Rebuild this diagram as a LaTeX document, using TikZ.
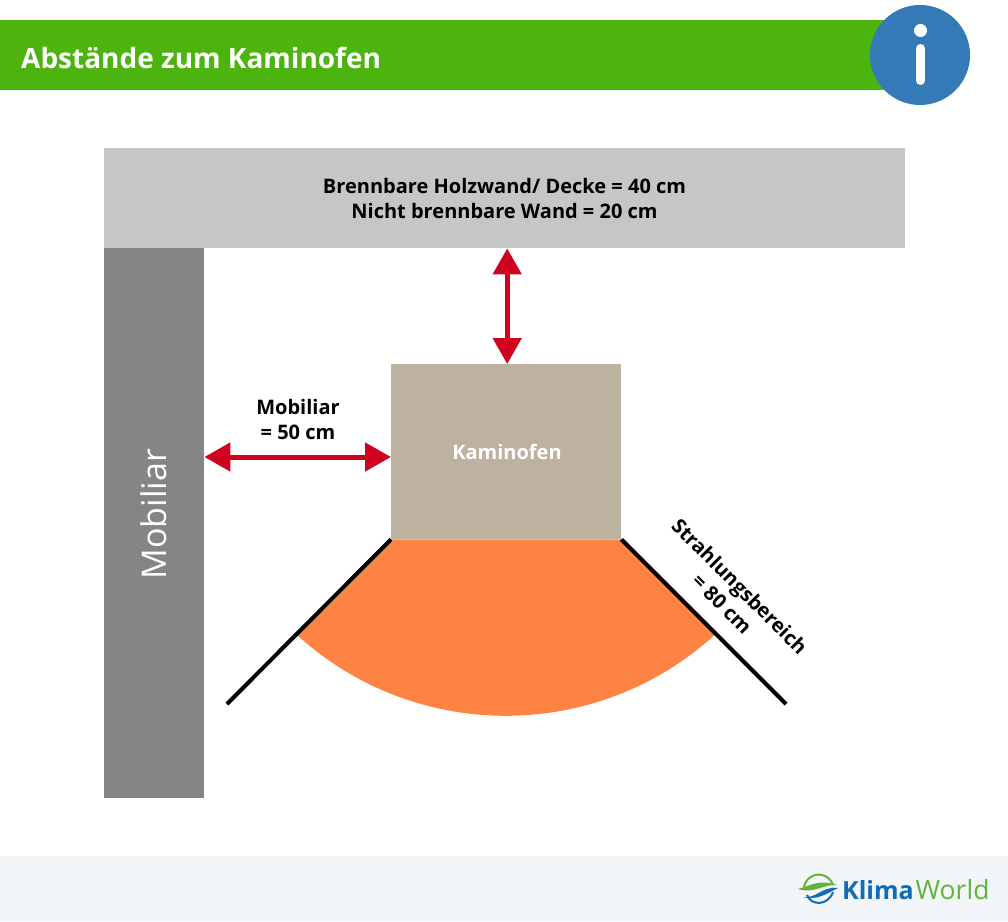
\documentclass[tikz,border=0pt]{standalone}
\usepackage{fontspec}
\setmainfont{Open Sans}
\usetikzlibrary{arrows.meta,calc}
\definecolor{titlegreen}{HTML}{4DB30E}
\definecolor{infoblue}{HTML}{337AB7}
\definecolor{wallgrey}{HTML}{C6C6C6}
\definecolor{furngrey}{HTML}{858585}
\definecolor{ofentan}{HTML}{BCB29F}
\definecolor{heatorange}{HTML}{FF8343}
\definecolor{arrowred}{HTML}{D0021F}
\definecolor{footgrey}{HTML}{F2F6F9}
\definecolor{logoblue}{HTML}{0F6CB6}
\definecolor{logogreen}{HTML}{63B33A}
\newcommand{\fs}[1]{\fontsize{#1pt}{1.25\dimexpr#1pt\relax}\selectfont}

\begin{document}
\begin{tikzpicture}[x=1pt,y=1pt]
    % `block' is used for the grey and tan areas.
    % `caption' is used for the bold black texts.
    \tikzstyle{block} = [inner sep=0pt,anchor=north west]
    \tikzstyle{caption} = [align=center,font=\fs{20}\bfseries,inner sep=0pt]
    \tikzstyle{gap} = [draw=arrowred,line width=5pt,{Triangle[length=26pt,width=28pt]}-{Triangle[length=26pt,width=28pt]}]
    \tikzstyle{edge} = [draw=black,line width=4pt]
    \useasboundingbox (0,0) rectangle (1008,-921);
    %
    \node[block,fill=footgrey,minimum width=1008pt,minimum height=65pt] (footer) at (0,-856) {};
    \node[block,fill=titlegreen,minimum width=900pt,minimum height=70pt] (titlebar) at (0,-20) {};
    \node[anchor=west,text=white,font=\fs{28}\bfseries,inner sep=0pt] (title) at (21,-58) {Abstände zum Kaminofen};
    % Info badge.
    \node[circle,fill=infoblue,minimum size=100pt,inner sep=0pt] (info) at (920,-55) {};
    \fill[white] (920.5,-30.5) circle (6.5pt);
    \draw[white,line width=9pt,line cap=round] (920.5,-48.5) -- (920.5,-80.5);
    %
    \node[block,fill=wallgrey,minimum width=801pt,minimum height=100pt] (wall) at (104,-148) {};
    \node[caption] (walltext) at (504.5,-198) {Brennbare Holzwand/ Decke = 40 cm\\Nicht brennbare Wand = 20 cm};
    \node[block,fill=furngrey,minimum width=100pt,minimum height=550pt] (mobiliar) at (104,-248) {};
    \node[rotate=90,text=white,font=\fs{34},inner sep=0pt] (mobtext) at (154,-514) {Mobiliar};
    \node[block,fill=ofentan,minimum width=230pt,minimum height=175pt] (ofen) at (391,-364) {};
    \node[text=white,font=\fs{20}\bfseries,inner sep=0pt] (ofentext) at (507,-452) {Kaminofen};
    % Heat sector, below the stove.
    \fill[heatorange] (ofen.south west) -- (296,-634) arc[start angle=-132.6,end angle=-47.4,radius=310] -- (ofen.south east) -- cycle;
    \coordinate (endl) at (227,-704);
    \coordinate (endr) at (786,-704);
    \draw[edge] (ofen.south west) -- (endl);
    \draw[edge] (ofen.south east) -- (endr);
    % Distances.
    \coordinate (midy) at (0,-457);
    \draw[gap] ([xshift=1pt]ofen.north |- wall.south) -- ([xshift=1pt]ofen.north);
    \draw[gap] (mobiliar.east |- midy) -- (ofen.west |- midy);
    \node[caption] (mobdist) at (298,-419) {Mobiliar\\= 50 cm};
    \node[caption,rotate=-45] (strahl) at (731,-595) {Strahlungsbereich\\= 80 cm};
    % Logo.
    \draw[logogreen,line width=2pt] (804,-887) arc[start angle=170,end angle=20,radius=15];
    \draw[logoblue,line width=2pt] (807,-895) .. controls (811,-906) and (828,-906) .. (833,-892);
    \fill[logogreen] (798,-889) .. controls (812,-885) and (820,-879) .. (837,-885) .. controls (824,-884) and (814,-894) .. (798,-889) -- cycle;
    \fill[logoblue] (803,-897) .. controls (816,-899) and (822,-886) .. (838,-888) .. controls (826,-894) and (816,-901) .. (803,-897) -- cycle;
    \node[anchor=base west,inner sep=0pt] (logo) at (842,-899) {\textcolor{logoblue}{\fs{25}\bfseries Klima}\kern2pt\textcolor{logogreen}{\fs{26.5}World}};
\end{tikzpicture}
\end{document}
